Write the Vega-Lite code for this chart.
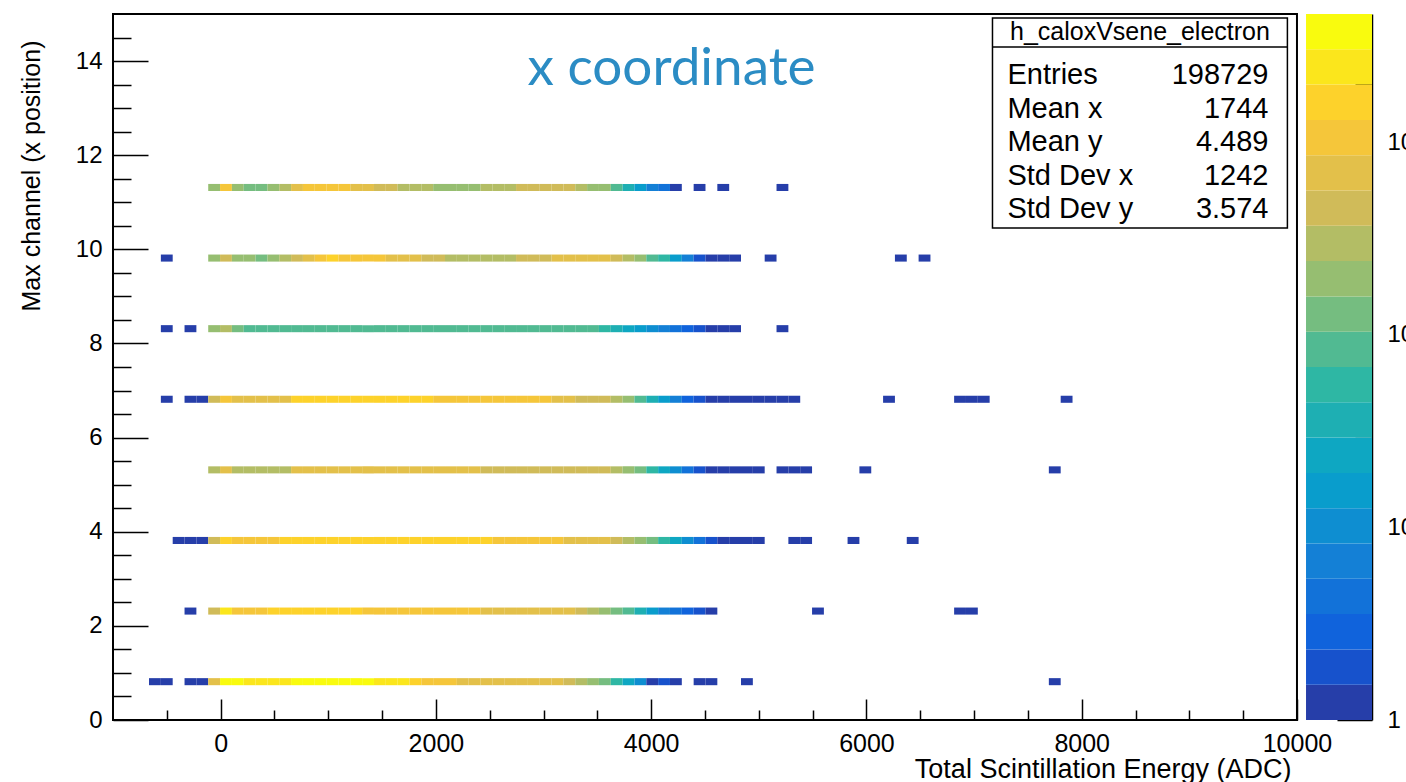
{
"$schema":"https://vega.github.io/schema/vega-lite/v6.json",
"background":"white",
"autosize":{"type":"none"},
"padding":{"left":113,"top":14,"right":34,"bottom":62},
"width":1259,"height":706,
"config":{"view":{"stroke":null},"font":"Liberation Sans","axis":{"labelFont":"Liberation Sans","titleFont":"Liberation Sans","labelColor":"black","titleColor":"black","tickColor":"black","domainColor":"black","titleFontWeight":"normal","grid":false}},
"datasets":{
"hist":[
{"x":-670,"y":0.75,"n":1},{"x":-560,"y":0.75,"n":1},{"x":-340,"y":0.75,"n":1},{"x":-230,"y":0.75,"n":1},
{"x":-120,"y":0.75,"n":695},{"x":-10,"y":0.75,"n":3758},{"x":100,"y":0.75,"n":3758},{"x":210,"y":0.75,"n":2464},{"x":320,"y":0.75,"n":2464},{"x":430,"y":0.75,"n":2464},{"x":540,"y":0.75,"n":2464},{"x":650,"y":0.75,"n":3758},{"x":760,"y":0.75,"n":3758},{"x":870,"y":0.75,"n":3758},{"x":980,"y":0.75,"n":3758},{"x":1090,"y":0.75,"n":3758},{"x":1200,"y":0.75,"n":3758},{"x":1310,"y":0.75,"n":3758},{"x":1420,"y":0.75,"n":2464},{"x":1530,"y":0.75,"n":2464},{"x":1640,"y":0.75,"n":2464},{"x":1750,"y":0.75,"n":1616},{"x":1860,"y":0.75,"n":1059},{"x":1970,"y":0.75,"n":1059},{"x":2080,"y":0.75,"n":1059},{"x":2190,"y":0.75,"n":695},{"x":2300,"y":0.75,"n":695},{"x":2410,"y":0.75,"n":695},{"x":2520,"y":0.75,"n":695},{"x":2630,"y":0.75,"n":695},{"x":2740,"y":0.75,"n":695},{"x":2850,"y":0.75,"n":695},{"x":2960,"y":0.75,"n":695},{"x":3070,"y":0.75,"n":695},{"x":3180,"y":0.75,"n":456},{"x":3290,"y":0.75,"n":299},{"x":3400,"y":0.75,"n":196},{"x":3510,"y":0.75,"n":128},{"x":3620,"y":0.75,"n":55},{"x":3730,"y":0.75,"n":24},{"x":3840,"y":0.75,"n":10},{"x":3950,"y":0.75,"n":1},{"x":4060,"y":0.75,"n":2},{"x":4170,"y":0.75,"n":1},{"x":4390,"y":0.75,"n":1},{"x":4500,"y":0.75,"n":1},{"x":4830,"y":0.75,"n":1},{"x":7690,"y":0.75,"n":1},
{"x":-340,"y":2.25,"n":1},
{"x":-120,"y":2.25,"n":456},{"x":-10,"y":2.25,"n":2464},{"x":100,"y":2.25,"n":1059},{"x":210,"y":2.25,"n":1059},{"x":320,"y":2.25,"n":1059},{"x":430,"y":2.25,"n":1616},{"x":540,"y":2.25,"n":1616},{"x":650,"y":2.25,"n":1616},{"x":760,"y":2.25,"n":1616},{"x":870,"y":2.25,"n":1616},{"x":980,"y":2.25,"n":1616},{"x":1090,"y":2.25,"n":1616},{"x":1200,"y":2.25,"n":1616},{"x":1310,"y":2.25,"n":1059},{"x":1420,"y":2.25,"n":1059},{"x":1530,"y":2.25,"n":1059},{"x":1640,"y":2.25,"n":1059},{"x":1750,"y":2.25,"n":1059},{"x":1860,"y":2.25,"n":1059},{"x":1970,"y":2.25,"n":1059},{"x":2080,"y":2.25,"n":1059},{"x":2190,"y":2.25,"n":1059},{"x":2300,"y":2.25,"n":1059},{"x":2410,"y":2.25,"n":695},{"x":2520,"y":2.25,"n":695},{"x":2630,"y":2.25,"n":695},{"x":2740,"y":2.25,"n":695},{"x":2850,"y":2.25,"n":695},{"x":2960,"y":2.25,"n":695},{"x":3070,"y":2.25,"n":695},{"x":3180,"y":2.25,"n":695},{"x":3290,"y":2.25,"n":456},{"x":3400,"y":2.25,"n":299},{"x":3510,"y":2.25,"n":196},{"x":3620,"y":2.25,"n":128},{"x":3730,"y":2.25,"n":84},{"x":3840,"y":2.25,"n":36},{"x":3950,"y":2.25,"n":16},{"x":4060,"y":2.25,"n":7},{"x":4170,"y":2.25,"n":4},{"x":4280,"y":2.25,"n":3},{"x":4390,"y":2.25,"n":2},{"x":4500,"y":2.25,"n":1},{"x":5490,"y":2.25,"n":1},{"x":6810,"y":2.25,"n":1},{"x":6920,"y":2.25,"n":1},
{"x":-450,"y":3.75,"n":1},{"x":-340,"y":3.75,"n":1},{"x":-230,"y":3.75,"n":1},
{"x":-120,"y":3.75,"n":456},{"x":-10,"y":3.75,"n":1616},{"x":100,"y":3.75,"n":1059},{"x":210,"y":3.75,"n":1059},{"x":320,"y":3.75,"n":1059},{"x":430,"y":3.75,"n":1059},{"x":540,"y":3.75,"n":1616},{"x":650,"y":3.75,"n":1616},{"x":760,"y":3.75,"n":1616},{"x":870,"y":3.75,"n":1616},{"x":980,"y":3.75,"n":1616},{"x":1090,"y":3.75,"n":1616},{"x":1200,"y":3.75,"n":1616},{"x":1310,"y":3.75,"n":1616},{"x":1420,"y":3.75,"n":1616},{"x":1530,"y":3.75,"n":1616},{"x":1640,"y":3.75,"n":1616},{"x":1750,"y":3.75,"n":1616},{"x":1860,"y":3.75,"n":1616},{"x":1970,"y":3.75,"n":1616},{"x":2080,"y":3.75,"n":1616},{"x":2190,"y":3.75,"n":1616},{"x":2300,"y":3.75,"n":1616},{"x":2410,"y":3.75,"n":1616},{"x":2520,"y":3.75,"n":1059},{"x":2630,"y":3.75,"n":1059},{"x":2740,"y":3.75,"n":1059},{"x":2850,"y":3.75,"n":1059},{"x":2960,"y":3.75,"n":1059},{"x":3070,"y":3.75,"n":1059},{"x":3180,"y":3.75,"n":695},{"x":3290,"y":3.75,"n":695},{"x":3400,"y":3.75,"n":695},{"x":3510,"y":3.75,"n":695},{"x":3620,"y":3.75,"n":456},{"x":3730,"y":3.75,"n":299},{"x":3840,"y":3.75,"n":196},{"x":3950,"y":3.75,"n":128},{"x":4060,"y":3.75,"n":55},{"x":4170,"y":3.75,"n":24},{"x":4280,"y":3.75,"n":10},{"x":4390,"y":3.75,"n":4},{"x":4500,"y":3.75,"n":2},{"x":4610,"y":3.75,"n":1},{"x":4720,"y":3.75,"n":1},{"x":4830,"y":3.75,"n":1},{"x":4940,"y":3.75,"n":1},{"x":5270,"y":3.75,"n":1},{"x":5380,"y":3.75,"n":1},{"x":5820,"y":3.75,"n":1},{"x":6370,"y":3.75,"n":1},
{"x":-120,"y":5.25,"n":299},{"x":-10,"y":5.25,"n":695},{"x":100,"y":5.25,"n":299},{"x":210,"y":5.25,"n":299},{"x":320,"y":5.25,"n":299},{"x":430,"y":5.25,"n":299},{"x":540,"y":5.25,"n":299},{"x":650,"y":5.25,"n":695},{"x":760,"y":5.25,"n":695},{"x":870,"y":5.25,"n":695},{"x":980,"y":5.25,"n":695},{"x":1090,"y":5.25,"n":695},{"x":1200,"y":5.25,"n":695},{"x":1310,"y":5.25,"n":695},{"x":1420,"y":5.25,"n":695},{"x":1530,"y":5.25,"n":695},{"x":1640,"y":5.25,"n":695},{"x":1750,"y":5.25,"n":695},{"x":1860,"y":5.25,"n":695},{"x":1970,"y":5.25,"n":695},{"x":2080,"y":5.25,"n":695},{"x":2190,"y":5.25,"n":695},{"x":2300,"y":5.25,"n":695},{"x":2410,"y":5.25,"n":456},{"x":2520,"y":5.25,"n":456},{"x":2630,"y":5.25,"n":456},{"x":2740,"y":5.25,"n":456},{"x":2850,"y":5.25,"n":456},{"x":2960,"y":5.25,"n":456},{"x":3070,"y":5.25,"n":456},{"x":3180,"y":5.25,"n":456},{"x":3290,"y":5.25,"n":456},{"x":3400,"y":5.25,"n":456},{"x":3510,"y":5.25,"n":456},{"x":3620,"y":5.25,"n":299},{"x":3730,"y":5.25,"n":196},{"x":3840,"y":5.25,"n":128},{"x":3950,"y":5.25,"n":55},{"x":4060,"y":5.25,"n":24},{"x":4170,"y":5.25,"n":10},{"x":4280,"y":5.25,"n":4},{"x":4390,"y":5.25,"n":2},{"x":4500,"y":5.25,"n":1},{"x":4610,"y":5.25,"n":1},{"x":4720,"y":5.25,"n":1},{"x":4830,"y":5.25,"n":1},{"x":4940,"y":5.25,"n":1},{"x":5160,"y":5.25,"n":1},{"x":5270,"y":5.25,"n":1},{"x":5380,"y":5.25,"n":1},{"x":5930,"y":5.25,"n":1},{"x":7690,"y":5.25,"n":1},
{"x":-560,"y":6.75,"n":1},{"x":-340,"y":6.75,"n":1},{"x":-230,"y":6.75,"n":1},
{"x":-120,"y":6.75,"n":456},{"x":-10,"y":6.75,"n":1059},{"x":100,"y":6.75,"n":695},{"x":210,"y":6.75,"n":695},{"x":320,"y":6.75,"n":695},{"x":430,"y":6.75,"n":695},{"x":540,"y":6.75,"n":695},{"x":650,"y":6.75,"n":1616},{"x":760,"y":6.75,"n":1616},{"x":870,"y":6.75,"n":1616},{"x":980,"y":6.75,"n":1616},{"x":1090,"y":6.75,"n":1616},{"x":1200,"y":6.75,"n":1616},{"x":1310,"y":6.75,"n":1616},{"x":1420,"y":6.75,"n":1616},{"x":1530,"y":6.75,"n":1616},{"x":1640,"y":6.75,"n":1616},{"x":1750,"y":6.75,"n":1616},{"x":1860,"y":6.75,"n":1616},{"x":1970,"y":6.75,"n":1059},{"x":2080,"y":6.75,"n":1059},{"x":2190,"y":6.75,"n":1059},{"x":2300,"y":6.75,"n":1059},{"x":2410,"y":6.75,"n":1059},{"x":2520,"y":6.75,"n":1059},{"x":2630,"y":6.75,"n":1059},{"x":2740,"y":6.75,"n":1059},{"x":2850,"y":6.75,"n":1059},{"x":2960,"y":6.75,"n":1059},{"x":3070,"y":6.75,"n":695},{"x":3180,"y":6.75,"n":695},{"x":3290,"y":6.75,"n":456},{"x":3400,"y":6.75,"n":456},{"x":3510,"y":6.75,"n":456},{"x":3620,"y":6.75,"n":299},{"x":3730,"y":6.75,"n":196},{"x":3840,"y":6.75,"n":84},{"x":3950,"y":6.75,"n":36},{"x":4060,"y":6.75,"n":16},{"x":4170,"y":6.75,"n":7},{"x":4280,"y":6.75,"n":3},{"x":4390,"y":6.75,"n":2},{"x":4500,"y":6.75,"n":1},{"x":4610,"y":6.75,"n":1},{"x":4720,"y":6.75,"n":1},{"x":4830,"y":6.75,"n":1},{"x":4940,"y":6.75,"n":1},{"x":5050,"y":6.75,"n":1},{"x":5160,"y":6.75,"n":1},{"x":5270,"y":6.75,"n":1},{"x":6150,"y":6.75,"n":1},{"x":6810,"y":6.75,"n":1},{"x":6920,"y":6.75,"n":1},{"x":7030,"y":6.75,"n":1},{"x":7800,"y":6.75,"n":1},
{"x":-560,"y":8.25,"n":1},{"x":-340,"y":8.25,"n":1},
{"x":-120,"y":8.25,"n":196},{"x":-10,"y":8.25,"n":299},{"x":100,"y":8.25,"n":128},{"x":210,"y":8.25,"n":84},{"x":320,"y":8.25,"n":84},{"x":430,"y":8.25,"n":84},{"x":540,"y":8.25,"n":84},{"x":650,"y":8.25,"n":84},{"x":760,"y":8.25,"n":84},{"x":870,"y":8.25,"n":84},{"x":980,"y":8.25,"n":84},{"x":1090,"y":8.25,"n":84},{"x":1200,"y":8.25,"n":84},{"x":1310,"y":8.25,"n":84},{"x":1420,"y":8.25,"n":84},{"x":1530,"y":8.25,"n":84},{"x":1640,"y":8.25,"n":84},{"x":1750,"y":8.25,"n":84},{"x":1860,"y":8.25,"n":84},{"x":1970,"y":8.25,"n":84},{"x":2080,"y":8.25,"n":84},{"x":2190,"y":8.25,"n":84},{"x":2300,"y":8.25,"n":84},{"x":2410,"y":8.25,"n":84},{"x":2520,"y":8.25,"n":84},{"x":2630,"y":8.25,"n":84},{"x":2740,"y":8.25,"n":84},{"x":2850,"y":8.25,"n":84},{"x":2960,"y":8.25,"n":84},{"x":3070,"y":8.25,"n":84},{"x":3180,"y":8.25,"n":84},{"x":3290,"y":8.25,"n":84},{"x":3400,"y":8.25,"n":84},{"x":3510,"y":8.25,"n":55},{"x":3620,"y":8.25,"n":36},{"x":3730,"y":8.25,"n":24},{"x":3840,"y":8.25,"n":16},{"x":3950,"y":8.25,"n":10},{"x":4060,"y":8.25,"n":7},{"x":4170,"y":8.25,"n":4},{"x":4280,"y":8.25,"n":3},{"x":4390,"y":8.25,"n":2},{"x":4500,"y":8.25,"n":1},{"x":4610,"y":8.25,"n":1},{"x":4720,"y":8.25,"n":1},{"x":5160,"y":8.25,"n":1},
{"x":-560,"y":9.75,"n":1},
{"x":-120,"y":9.75,"n":196},{"x":-10,"y":9.75,"n":456},{"x":100,"y":9.75,"n":196},{"x":210,"y":9.75,"n":196},{"x":320,"y":9.75,"n":128},{"x":430,"y":9.75,"n":196},{"x":540,"y":9.75,"n":299},{"x":650,"y":9.75,"n":456},{"x":760,"y":9.75,"n":695},{"x":870,"y":9.75,"n":1059},{"x":980,"y":9.75,"n":1616},{"x":1090,"y":9.75,"n":1059},{"x":1200,"y":9.75,"n":1059},{"x":1310,"y":9.75,"n":1059},{"x":1420,"y":9.75,"n":1059},{"x":1530,"y":9.75,"n":695},{"x":1640,"y":9.75,"n":695},{"x":1750,"y":9.75,"n":695},{"x":1860,"y":9.75,"n":456},{"x":1970,"y":9.75,"n":456},{"x":2080,"y":9.75,"n":299},{"x":2190,"y":9.75,"n":299},{"x":2300,"y":9.75,"n":299},{"x":2410,"y":9.75,"n":299},{"x":2520,"y":9.75,"n":299},{"x":2630,"y":9.75,"n":299},{"x":2740,"y":9.75,"n":456},{"x":2850,"y":9.75,"n":456},{"x":2960,"y":9.75,"n":456},{"x":3070,"y":9.75,"n":695},{"x":3180,"y":9.75,"n":695},{"x":3290,"y":9.75,"n":695},{"x":3400,"y":9.75,"n":695},{"x":3510,"y":9.75,"n":695},{"x":3620,"y":9.75,"n":456},{"x":3730,"y":9.75,"n":299},{"x":3840,"y":9.75,"n":196},{"x":3950,"y":9.75,"n":84},{"x":4060,"y":9.75,"n":55},{"x":4170,"y":9.75,"n":16},{"x":4280,"y":9.75,"n":7},{"x":4390,"y":9.75,"n":2},{"x":4500,"y":9.75,"n":1},{"x":4610,"y":9.75,"n":1},{"x":4720,"y":9.75,"n":1},{"x":5050,"y":9.75,"n":1},{"x":6260,"y":9.75,"n":1},{"x":6480,"y":9.75,"n":1},
{"x":-120,"y":11.25,"n":196},{"x":-10,"y":11.25,"n":1059},{"x":100,"y":11.25,"n":196},{"x":210,"y":11.25,"n":128},{"x":320,"y":11.25,"n":128},{"x":430,"y":11.25,"n":196},{"x":540,"y":11.25,"n":299},{"x":650,"y":11.25,"n":695},{"x":760,"y":11.25,"n":1059},{"x":870,"y":11.25,"n":1059},{"x":980,"y":11.25,"n":1059},{"x":1090,"y":11.25,"n":1059},{"x":1200,"y":11.25,"n":695},{"x":1310,"y":11.25,"n":695},{"x":1420,"y":11.25,"n":456},{"x":1530,"y":11.25,"n":456},{"x":1640,"y":11.25,"n":299},{"x":1750,"y":11.25,"n":299},{"x":1860,"y":11.25,"n":299},{"x":1970,"y":11.25,"n":196},{"x":2080,"y":11.25,"n":196},{"x":2190,"y":11.25,"n":196},{"x":2300,"y":11.25,"n":196},{"x":2410,"y":11.25,"n":299},{"x":2520,"y":11.25,"n":299},{"x":2630,"y":11.25,"n":299},{"x":2740,"y":11.25,"n":456},{"x":2850,"y":11.25,"n":456},{"x":2960,"y":11.25,"n":456},{"x":3070,"y":11.25,"n":456},{"x":3180,"y":11.25,"n":456},{"x":3290,"y":11.25,"n":299},{"x":3400,"y":11.25,"n":196},{"x":3510,"y":11.25,"n":196},{"x":3620,"y":11.25,"n":84},{"x":3730,"y":11.25,"n":36},{"x":3840,"y":11.25,"n":16},{"x":3950,"y":11.25,"n":7},{"x":4060,"y":11.25,"n":4},{"x":4170,"y":11.25,"n":1},{"x":4390,"y":11.25,"n":1},{"x":4610,"y":11.25,"n":1},{"x":5160,"y":11.25,"n":1}
],
"bands":[
{"lo":1,"hi":1.525,"n":1},{"lo":1.525,"hi":2.326,"n":2},{"lo":2.326,"hi":3.548,"n":3},{"lo":3.548,"hi":5.412,"n":4},{"lo":5.412,"hi":8.254,"n":7},{"lo":8.254,"hi":12.59,"n":10},{"lo":12.59,"hi":19.2,"n":16},{"lo":19.2,"hi":29.29,"n":24},{"lo":29.29,"hi":44.67,"n":36},{"lo":44.67,"hi":68.13,"n":55},{"lo":68.13,"hi":103.9,"n":84},{"lo":103.9,"hi":158.5,"n":128},{"lo":158.5,"hi":241.7,"n":196},{"lo":241.7,"hi":368.7,"n":299},{"lo":368.7,"hi":562.3,"n":456},{"lo":562.3,"hi":857.7,"n":695},{"lo":857.7,"hi":1308,"n":1059},{"lo":1308,"hi":1995,"n":1616},{"lo":1995,"hi":3043,"n":2464},{"lo":3043,"hi":4642,"n":3758}
]
},
"resolve":{"scale":{"y":"independent"},"axis":{"x":"independent","y":"independent"}},
"layer":[
{
"resolve":{"axis":{"x":"independent","y":"independent"}},
"layer":[
{"data":{"name":"hist"},"mark":{"type":"rect"},
"encoding":{
"x":{"field":"x","type":"quantitative","bin":{"binned":true,"step":110},"scale":{"domain":[-1000,10697],"nice":false,"zero":false},
"axis":{"orient":"bottom","values":[0,2000,4000,6000,8000,10000],"format":"d","tickSize":-21,"tickWidth":1.5,"domain":false,"labelPadding":32,"labelFontSize":25,"labelFlush":false,"labelOverlap":false,"title":"Total Scintillation Energy (ADC)","titleFontSize":27,"titleAnchor":"end","titleAlign":"right","titleBaseline":"alphabetic","titleX":1178,"titleY":57}},
"y":{"field":"y","type":"quantitative","bin":{"binned":true,"step":0.15},"scale":{"domain":[0,15],"nice":false,"zero":false},
"axis":{"orient":"left","values":[0,2,4,6,8,10,12,14],"format":"d","tickSize":-35,"tickWidth":1.5,"domain":false,"labelPadding":46,"labelFontSize":24,"labelFlush":false,"labelOverlap":false,"labelBaseline":"middle","title":"Max channel (x position)","titleFontSize":25,"titleAngle":-90,"titleAlign":"right","titleBaseline":"middle","titleX":-82,"titleY":26}},
"color":{"field":"n","type":"quantitative","scale":{"type":"threshold","domain":[1.525,2.326,3.548,5.412,8.254,12.59,19.2,29.29,44.67,68.13,103.9,158.5,241.7,368.7,562.3,857.7,1308,1995,3043],"range":["#263ea9","#1752cc","#1063dc","#1272d9","#1480d6","#0e8ed1","#099dcc","#0ea7c2","#1eafb3","#2eb7a4","#51ba92","#75bd80","#96be71","#b3bd65","#d0bb59","#e3c04a","#f5c63a","#fdd22b","#fbe61c","#f9fb0e"]},"legend":null}
}},
{"data":{"name":"hist"},"mark":{"type":"rect","opacity":0},
"encoding":{
"x":{"field":"x","type":"quantitative","bin":{"binned":true,"step":110},"scale":{"domain":[-1000,10697],"nice":false,"zero":false},
"axis":{"orient":"bottom","values":[-500,500,1000,1500,2500,3000,3500,4500,5000,5500,6500,7000,7500,8500,9000,9500],"tickSize":-10,"tickWidth":1.5,"labels":false,"domain":false,"title":null}},
"y":{"field":"y","type":"quantitative","bin":{"binned":true,"step":0.15},"scale":{"domain":[0,15],"nice":false,"zero":false},
"axis":{"orient":"left","values":[0.5,1,1.5,2.5,3,3.5,4.5,5,5.5,6.5,7,7.5,8.5,9,9.5,10.5,11,11.5,12.5,13,13.5,14.5],"tickSize":-18,"tickWidth":1.5,"labels":false,"domain":false,"title":null}}
}},
{"data":{"values":[{}]},"mark":{"type":"rect","fillOpacity":0,"stroke":"black","strokeWidth":2},
"encoding":{"x":{"datum":-1000,"type":"quantitative","axis":null},"x2":{"datum":10000},"y":{"datum":0,"type":"quantitative","axis":null},"y2":{"datum":15}}},
{"data":{"values":[{}]},"mark":{"type":"text","text":"x coordinate","font":"Lato","fontSize":53,"color":"#2b8cc4","align":"center","baseline":"alphabetic"},
"encoding":{"x":{"datum":4189,"type":"quantitative","axis":null},"y":{"datum":13.49,"type":"quantitative","axis":null}}},
{"data":{"values":[{}]},"mark":{"type":"rect","fill":"white","stroke":"black","strokeWidth":1.5},
"encoding":{"x":{"datum":7171,"type":"quantitative","axis":null},"x2":{"datum":9911},"y":{"datum":14.915,"type":"quantitative","axis":null},"y2":{"datum":10.454}}},
{"data":{"values":[{}]},"mark":{"type":"rule","stroke":"black","strokeWidth":1.5},
"encoding":{"x":{"datum":7171,"type":"quantitative","axis":null},"x2":{"datum":9911},"y":{"datum":14.30,"type":"quantitative","axis":null}}},
{"data":{"values":[{}]},"mark":{"type":"text","text":"h_caloxVsene_electron","fontSize":25,"color":"black","align":"center","baseline":"middle"},
"encoding":{"x":{"datum":8541,"type":"quantitative","axis":null},"y":{"datum":14.61,"type":"quantitative","axis":null}}},
{"data":{"values":[{}]},"mark":{"type":"text","text":["Entries","Mean x","Mean y","Std Dev x","Std Dev y"],"fontSize":29,"lineHeight":33.5,"color":"black","align":"left","baseline":"alphabetic"},
"encoding":{"x":{"datum":7310,"type":"quantitative","axis":null},"y":{"datum":13.51,"type":"quantitative","axis":null}}},
{"data":{"values":[{}]},"mark":{"type":"text","text":["198729","1744","4.489","1242","3.574"],"fontSize":29,"lineHeight":33.5,"color":"black","align":"right","baseline":"alphabetic"},
"encoding":{"x":{"datum":9735,"type":"quantitative","axis":null},"y":{"datum":13.51,"type":"quantitative","axis":null}}}
]
},
{
"resolve":{"axis":{"y":"independent"}},
"layer":[
{"data":{"name":"bands"},"mark":{"type":"rect"},
"encoding":{
"x":{"datum":10084,"type":"quantitative","axis":null},"x2":{"datum":10697},
"y":{"field":"lo","type":"quantitative","scale":{"type":"log","domain":[1,4642],"nice":false},
"axis":{"orient":"right","values":[1,10,100,1000],"labelExpr":"datum.value == 1 ? '1' : '10'","tickSize":-35,"tickWidth":1.5,"domain":true,"domainWidth":1.5,"labelPadding":50,"labelFontSize":24,"labelBaseline":"middle","labelFlush":false,"labelOverlap":false,"title":null}},
"y2":{"field":"hi"},
"color":{"field":"n","type":"quantitative","scale":{"type":"threshold","domain":[1.525,2.326,3.548,5.412,8.254,12.59,19.2,29.29,44.67,68.13,103.9,158.5,241.7,368.7,562.3,857.7,1308,1995,3043],"range":["#263ea9","#1752cc","#1063dc","#1272d9","#1480d6","#0e8ed1","#099dcc","#0ea7c2","#1eafb3","#2eb7a4","#51ba92","#75bd80","#96be71","#b3bd65","#d0bb59","#e3c04a","#f5c63a","#fdd22b","#fbe61c","#f9fb0e"]},"legend":null}
}},
{"data":{"name":"bands"},"mark":{"type":"rect","opacity":0},
"encoding":{
"x":{"datum":10084,"type":"quantitative","axis":null},"x2":{"datum":10697},
"y":{"field":"lo","type":"quantitative","scale":{"type":"log","domain":[1,4642],"nice":false},
"axis":{"orient":"right","values":[2,3,4,5,6,7,8,9,20,30,40,50,60,70,80,90,200,300,400,500,600,700,800,900,2000,3000,4000],"tickSize":-17,"tickWidth":1.5,"labels":false,"domain":false,"title":null}},
"y2":{"field":"hi"}
}}
]
}
]
}
